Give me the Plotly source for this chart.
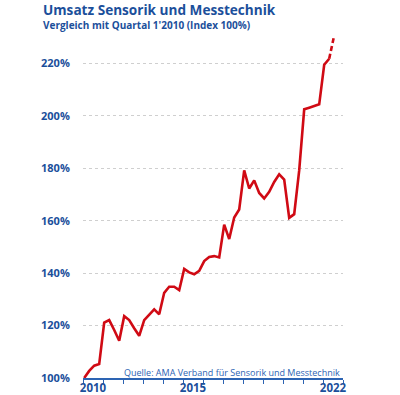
import plotly.graph_objects as go

# quarterly index values, Q1 2010 = 100
years = [2010]*4 + [2011]*4 + [2012]*4 + [2013]*4 + [2014]*4 + [2015]*4 + [2016]*4 + \
        [2017]*4 + [2018]*4 + [2019]*4 + [2020]*4 + [2021]*4 + [2022]*3
quarters = [1, 2, 3, 4] * 12 + [1, 2, 3]
index_values = [100, 102.7, 104.7, 105.3,
                121.1, 122.1, 118.3, 114.2,
                123.6, 122.1, 119.0, 116.1,
                122.1, 124.3, 126.2, 124.3,
                132.5, 134.8, 134.8, 133.5,
                141.6, 140.3, 139.6, 140.9,
                144.6, 146.2, 146.5, 146.0,
                158.5, 153.0, 161.2, 164.3,
                179.2, 172.3, 175.4, 170.6,
                168.5, 171.0, 174.8, 177.7,
                175.7, 161.1, 162.5, 179.2,
                202.5, 203.1, 203.7, 204.4,
                219.5, 221.8, 230.7]
n_estimated = 1  # last value is a projection (dashed)

y_ticks = [100, 120, 140, 160, 180, 200, 220]
y_tick_text = [f"{v}%" for v in y_ticks]
x_label_years = [2010, 2015, 2022]
x_tick_years = list(range(2010, 2024))

title = "Umsatz Sensorik und Messtechnik"
subtitle = "Vergleich mit Quartal 1'2010 (Index 100%)"
source = "Quelle: AMA Verband für Sensorik und Messtechnik"

BLUE = "#1b4f9b"
AXIS_BLUE = "#2d64b3"
RED = "#d00a14"
FONT = "Open Sans"

xs = [y + (q - 1) / 4 + 0.06 for y, q in zip(years, quarters)]
k = len(xs) - n_estimated

fig = go.Figure()
fig.add_trace(go.Scatter(x=xs[:k], y=index_values[:k], mode="lines",
                         line=dict(color=RED, width=2.6), hoverinfo="skip"))
fig.add_trace(go.Scatter(x=xs[k - 1:], y=index_values[k - 1:], mode="lines",
                         line=dict(color=RED, width=2.6, dash="5px,3px"), hoverinfo="skip"))

W, H = 400, 395
px_left, px_right, px_top, px_bottom = 82.7, 342.7, 31.5, 378  # target plot box on screen
L, T = px_left, px_top
R, B = W - px_right, H - px_bottom
PW, PH = px_right - px_left, px_bottom - px_top


def ax(xpix):
    return (xpix - px_left) / PW


def ay(ypix):
    return (px_bottom - ypix) / PH


fig.update_layout(
    width=W, height=H,
    margin=dict(l=L, r=R, t=T, b=B, autoexpand=False),
    paper_bgcolor="white", plot_bgcolor="white",
    showlegend=False,
    font=dict(family=FONT, color=BLUE),
    xaxis=dict(
        range=[2010, 2023], showgrid=False, zeroline=False, automargin=False,
        showline=True, linecolor=AXIS_BLUE, linewidth=1.5,
        tickvals=[y + 0.5 for y in x_label_years],
        ticktext=[f"<b>{y}</b>" for y in x_label_years],
        ticks="", ticklen=0, ticklabelstandoff=-2,
        tickfont=dict(family=FONT, size=11.5, color=BLUE),
        minor=dict(tickvals=x_tick_years, ticks="outside", ticklen=4,
                   tickcolor=AXIS_BLUE, tickwidth=1.2, showgrid=False),
        fixedrange=True,
    ),
    yaxis=dict(
        range=[100, 232], showgrid=True, gridcolor="#cfcfcf", griddash="dot",
        gridwidth=1, zeroline=False, showline=False, automargin=False,
        tickvals=y_ticks, ticktext=[f"<b>{t}</b>" for t in y_tick_text],
        ticks="outside", ticklen=10, tickcolor="rgba(0,0,0,0)",
        tickfont=dict(family=FONT, size=11, color=BLUE),
        fixedrange=True,
    ),
    annotations=[
        dict(text=f"<b>{title}</b>", xref="paper", yref="paper",
             x=ax(40.5), y=ay(8.5),
             xanchor="left", yanchor="middle", showarrow=False,
             font=dict(family=FONT, size=13.6, color=BLUE)),
        dict(text=f"<b>{subtitle}</b>", xref="paper", yref="paper",
             x=ax(40.5), y=ay(24.5),
             xanchor="left", yanchor="middle", showarrow=False,
             font=dict(family=FONT, size=10, color=BLUE)),
        dict(text=source, xref="paper", yref="paper",
             x=ax(342), y=ay(372),
             xanchor="right", yanchor="middle", showarrow=False,
             font=dict(family=FONT, size=9, color=AXIS_BLUE)),
    ],
)

fig.write_html("out.html", config={"displayModeBar": False},
               post_script="document.body.style.margin='0';")
